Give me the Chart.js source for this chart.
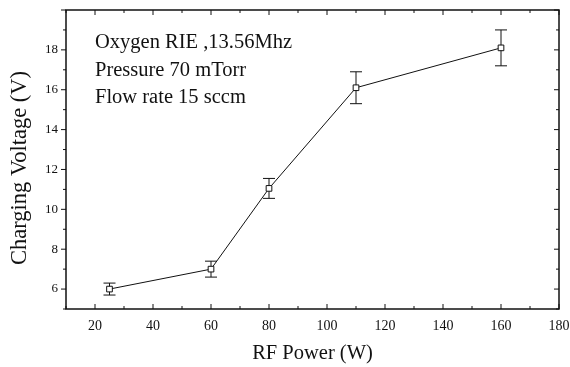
<!DOCTYPE html>
<html>
<head>
<meta charset="utf-8">
<script src="https://cdn.jsdelivr.net/npm/chart.js@4.4.0/dist/chart.umd.min.js"></script>
<style>
	body { margin: 0; background: #fff; }
	#wrap { width: 570px; height: 367px; }
</style>
</head>
<body>
<div id="wrap"><canvas id="my_chart" width="570" height="367"></canvas></div>
<script>
// Data
const rfPower = [25, 60, 80, 110, 160]
const voltage = [6.0, 7.0, 11.05, 16.1, 18.1]
const voltErr = [0.3, 0.4, 0.5, 0.8, 0.9]

const xTicks = [20, 40, 60, 80, 100, 120, 140, 160, 180]
const yTicks = [6, 8, 10, 12, 14, 16, 18]

const notes = ['Oxygen RIE ,13.56Mhz', 'Pressure 70 mTorr', 'Flow rate 15 sccm']
const yTitle = 'Charging Voltage (V)'

const serif = "'Liberation Serif', 'DejaVu Serif', serif"

// Error bars, frame with ticks, y title and text notes
const extras = {
	id: 'extras',
	beforeDatasetsDraw(chart) {
		const ctx = chart.ctx
		const x = chart.scales.x, y = chart.scales.y
		ctx.save()
		ctx.strokeStyle = '#111'
		ctx.lineWidth = 1
		rfPower.forEach((p, i) => {
			const px = x.getPixelForValue(p)
			const top = y.getPixelForValue(voltage[i] + voltErr[i])
			const bot = y.getPixelForValue(voltage[i] - voltErr[i])
			ctx.beginPath()
			ctx.moveTo(px, top); ctx.lineTo(px, bot)
			ctx.moveTo(px - 6, top); ctx.lineTo(px + 6, top)
			ctx.moveTo(px - 6, bot); ctx.lineTo(px + 6, bot)
			ctx.stroke()
		})
		ctx.restore()
	},
	afterDraw(chart) {
		const ctx = chart.ctx
		const a = chart.chartArea
		const x = chart.scales.x, y = chart.scales.y
		ctx.save()
		ctx.strokeStyle = '#111'
		ctx.lineWidth = 1.5
		ctx.strokeRect(a.left, a.top, a.right - a.left, a.bottom - a.top)
		ctx.lineWidth = 1
		ctx.beginPath()
		for (let v = 10; v <= 180; v += 10) {
			const px = x.getPixelForValue(v)
			const len = v % 20 === 0 ? 5 : 3
			ctx.moveTo(px, a.bottom); ctx.lineTo(px, a.bottom - len)
			ctx.moveTo(px, a.top); ctx.lineTo(px, a.top + len)
		}
		for (let v = 5; v <= 20; v += 1) {
			const py = y.getPixelForValue(v)
			const len = v % 2 === 0 ? 5 : 3
			ctx.moveTo(a.left, py); ctx.lineTo(a.left - len, py)
			ctx.moveTo(a.right, py); ctx.lineTo(a.right - len, py)
		}
		ctx.stroke()

		ctx.fillStyle = '#111'
		ctx.font = '20.5px ' + serif
		ctx.textBaseline = 'alphabetic'
		notes.forEach((t, i) => {
			ctx.fillText(t, 95, 48 + i * 27.5)
		})

		// y axis title, a bit below the plot centre as in the original
		ctx.translate(20, 168)
		ctx.rotate(-Math.PI / 2)
		ctx.font = '22.5px ' + serif
		ctx.textAlign = 'center'
		ctx.textBaseline = 'middle'
		ctx.fillText(yTitle, 0, 0)
		ctx.restore()
	}
}

const ctx = document.getElementById('my_chart')
const chart = new Chart(ctx, {
	type: 'scatter',
	data: {
		datasets: [{
			data: rfPower.map((p, i) => ({ x: p, y: voltage[i] })),
			showLine: true,
			borderColor: '#111',
			borderWidth: 1,
			tension: 0,
			pointStyle: 'rect',
			pointRadius: 4,
			pointBorderWidth: 1,
			pointBackgroundColor: '#fff',
			pointBorderColor: '#111'
		}]
	},
	options: {
		responsive: false,
		animation: false,
		layout: { padding: { left: 0, right: 11, top: 10, bottom: 0 } },
		plugins: {
			legend: { display: false },
			tooltip: { enabled: false }
		},
		scales: {
			x: {
				type: 'linear',
				min: 10,
				max: 180,
				afterBuildTicks: s => { s.ticks = xTicks.map(v => ({ value: v })) },
				afterFit: s => { s.height = 58; s.paddingLeft = 0; s.paddingRight = 0 },
				grid: { display: false },
				border: { display: false },
				ticks: {
					color: '#111',
					padding: 1,
					font: { family: serif, size: 14 },
					maxRotation: 0
				},
				title: {
					display: true,
					text: 'RF Power (W)',
					color: '#111',
					font: { family: serif, size: 20.5 },
					padding: { top: 0, bottom: 1 }
				}
			},
			y: {
				type: 'linear',
				min: 5,
				max: 20,
				afterBuildTicks: s => { s.ticks = yTicks.map(v => ({ value: v })) },
				afterFit: s => { s.width = 66; s.paddingTop = 0; s.paddingBottom = 0 },
				grid: { display: false },
				border: { display: false },
				ticks: {
					color: '#111',
					padding: 0,
					font: { family: serif, size: 13 }
				},
				title: { display: false }
			}
		}
	},
	plugins: [extras]
})
</script>
</body>
</html>
